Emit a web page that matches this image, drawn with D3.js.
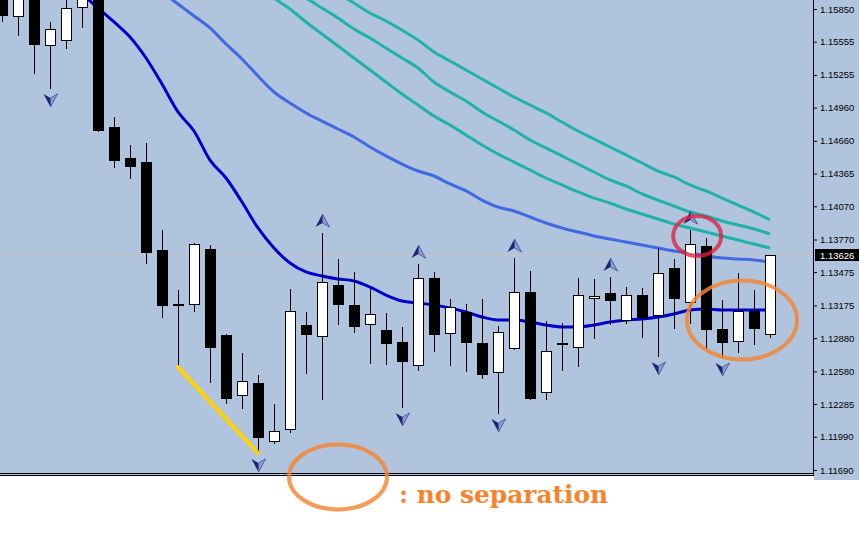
<!DOCTYPE html>
<html><head><meta charset="utf-8">
<script src="https://cdn.jsdelivr.net/npm/d3@7"></script>
<style>body{margin:0;background:#fff}svg{display:block}</style>
</head><body><svg id="c" width="859" height="540"></svg>
<script>
// ---- data (prices) ----
const candleOpen=[1.16112,1.15787,1.16021,1.15525,1.15570,1.15868,1.15976,1.14785,1.14505,1.14469,
1.13675,1.13188,1.13188,1.13684,1.12908,1.12367,1.12475,1.11952,1.12060,1.12998,
1.12899,1.13359,1.13179,1.13007,1.12953,1.12845,1.12637,1.13423,1.12926,1.13116,
1.12836,1.12574,1.12791,1.13296,1.12394,1.12836,1.12800,1.13242,1.13287,1.13044,
1.13269,1.13089,1.13513,1.13206,1.13711,1.12962,1.12854,1.13125,1.12917];
const candleHigh=[1.16202,1.16003,1.16067,1.15733,1.15976,1.16021,1.16021,1.14875,1.14623,1.14641,
1.13856,1.13314,1.13738,1.13720,1.12917,1.12746,1.12547,1.12286,1.13323,1.13116,
1.13829,1.13594,1.13477,1.13323,1.13107,1.12980,1.13549,1.13477,1.13233,1.13188,
1.13233,1.12989,1.13603,1.13486,1.13035,1.13016,1.13423,1.13414,1.13432,1.13341,
1.13332,1.13693,1.13594,1.13856,1.13784,1.13224,1.13468,1.13314,1.13626];
const candleLow=[1.15742,1.15615,1.15272,1.15137,1.15498,1.15688,1.14749,1.14424,1.14325,1.13558,
1.13071,1.12619,1.13125,1.12484,1.12295,1.12249,1.11843,1.11934,1.12033,1.12565,
1.12331,1.13007,1.12935,1.12656,1.12647,1.12258,1.12592,1.12764,1.12637,1.12583,
1.12520,1.12204,1.12782,1.12331,1.12331,1.12592,1.12628,1.12881,1.13007,1.13016,
1.12890,1.12719,1.12971,1.13016,1.12791,1.12710,1.12755,1.12827,1.12890];
const candleClose=[1.15796,1.15958,1.15534,1.15670,1.15859,1.15958,1.14758,1.14487,1.14433,1.13657,
1.13179,1.13188,1.13729,1.12800,1.12340,1.12493,1.11988,1.12042,1.13125,1.12917,
1.13386,1.13188,1.12989,1.13098,1.12836,1.12674,1.13423,1.12917,1.13161,1.12845,
1.12556,1.12935,1.13296,1.12340,1.12764,1.12836,1.13269,1.13260,1.13224,1.13269,
1.13071,1.13468,1.13242,1.13729,1.12962,1.12845,1.13125,1.12971,1.13626];

const maFast=[null,null,null,null,null,1.15985,1.15859,1.15733,1.15597,1.15408,
1.15173,1.14921,1.14749,1.14487,1.14325,1.14108,1.13874,1.13693,1.13558,1.13477,
1.13441,1.13414,1.13396,1.13341,1.13269,1.13215,1.13197,1.13179,1.13152,1.13116,
1.13071,1.13044,1.13044,1.13026,1.12998,1.12980,1.12980,1.12998,1.13026,1.13044,
1.13053,1.13071,1.13098,1.13134,1.13143,1.13134,1.13134,1.13134,1.13134];
const maMid=[null,null,null,null,null,null,null,null,null,1.16103,
1.16003,1.15895,1.15787,1.15679,1.15534,1.15399,1.15245,1.15101,1.15002,1.14912,
1.14839,1.14767,1.14695,1.14605,1.14524,1.14451,1.14388,1.14343,1.14271,1.14208,
1.14126,1.14063,1.14027,1.13973,1.13919,1.13874,1.13838,1.13802,1.13774,1.13747,
1.13720,1.13693,1.13666,1.13648,1.13621,1.13603,1.13594,1.13585,1.13567];
const maSlowA=[null,null,null,null,null,null,null,null,null,null,
null,null,null,null,null,null,1.16058,1.15949,1.15850,1.15733,
1.15624,1.15516,1.15408,1.15300,1.15191,1.15083,1.14984,1.14884,1.14803,1.14713,
1.14623,1.14542,1.14469,1.14397,1.14325,1.14262,1.14199,1.14144,1.14099,1.14045,
1.14000,1.13955,1.13910,1.13874,1.13838,1.13802,1.13765,1.13729,1.13693];
const maSlowB=[null,null,null,null,null,null,null,null,null,null,
null,null,null,null,null,null,null,null,1.16030,1.15949,
1.15859,1.15769,1.15670,1.15588,1.15498,1.15408,1.15318,1.15191,1.15101,1.15020,
1.14921,1.14839,1.14758,1.14668,1.14596,1.14524,1.14451,1.14379,1.14307,1.14253,
1.14181,1.14126,1.14072,1.14018,1.13982,1.13937,1.13901,1.13865,1.13820];
const maSlowC=[null,null,null,null,null,null,null,null,null,null,
null,null,null,null,null,null,null,null,null,null,
null,1.15994,1.15904,1.15814,1.15742,1.15660,1.15570,1.15462,1.15381,1.15300,
1.15218,1.15137,1.15056,1.14984,1.14912,1.14830,1.14749,1.14677,1.14605,1.14533,
1.14460,1.14388,1.14334,1.14262,1.14208,1.14144,1.14081,1.14018,1.13946];

const tickValues=[1.15850,1.15555,1.15255,1.14960,1.14660,1.14365,1.14070,1.13770,1.13475,1.13175,1.12880,1.12580,1.12285,1.11990,1.11690];
const lastPrice=1.13626;
const fractalUp=[20,26,32,38,43];
const fractalDown=[3,16,25,31,41,45];
const trendLine=[11,16];
const noteText=": no separation";

// ---- layout ----
const W=859,H=540,axisX=813,plotBottom=473;
const x=d3.scaleLinear().domain([0,48]).range([2,770]);
const y=d3.scaleLinear().domain([1.11690,1.15850]).range([470,9]);
const svg=d3.select('#c');
svg.append('rect').attr('width',W).attr('height',H).attr('fill','#fff');
svg.append('rect').attr('x',0).attr('y',0).attr('width',W).attr('height',476).attr('fill','#B0C4DE');
svg.append('rect').attr('x',axisX).attr('y',0).attr('width',W-axisX).attr('height',480).attr('fill','#B0C4DE');

svg.append('clipPath').attr('id','clip').append('rect').attr('x',0).attr('y',0).attr('width',axisX).attr('height',plotBottom);
const g=svg.append('g').attr('clip-path','url(#clip)');

// bid line
const by=Math.round(y(lastPrice))+0.5;
g.append('line').attr('x1',0).attr('x2',axisX).attr('y1',by).attr('y2',by).attr('stroke','#c4c4c4').attr('stroke-width',1);

// moving averages
const line=d3.line().defined(d=>d!=null).x((d,i)=>x(i)).y(d=>y(d)).curve(d3.curveMonotoneX);
[{v:maSlowC,c:'#20B2AA',w:3},{v:maSlowB,c:'#20B2AA',w:3},{v:maSlowA,c:'#20B2AA',w:3},
 {v:maMid,c:'#4169E1',w:3},{v:maFast,c:'#0000CD',w:3}].forEach(m=>{
  g.append('path').datum(m.v).attr('d',line).attr('fill','none').attr('stroke',m.c).attr('stroke-width',m.w).attr('stroke-linejoin','round');
});

// candles
const idx=d3.range(candleOpen.length);
const cg=g.append('g');
idx.forEach(i=>{
  const cx=Math.round(x(i));
  const o=candleOpen[i],c=candleClose[i],hi=candleHigh[i],lo=candleLow[i];
  cg.append('line').attr('x1',cx+0.5).attr('x2',cx+0.5).attr('y1',Math.round(y(hi))).attr('y2',Math.round(y(lo))+1)
    .attr('stroke','#000').attr('stroke-width',1);
  const top=Math.round(y(Math.max(o,c))), bot=Math.round(y(Math.min(o,c)));
  if(c>o){
    cg.append('rect').attr('x',cx-4.5).attr('y',top+0.5).attr('width',10).attr('height',Math.max(bot-top,1))
      .attr('fill','#fff').attr('stroke','#000').attr('stroke-width',1);
  } else {
    cg.append('rect').attr('x',cx-5).attr('y',top).attr('width',11).attr('height',Math.max(bot-top+1,2)).attr('fill','#000');
  }
});

// fractal arrows
const ag=svg.append('g');
function arrow(cx,tip,dir){
  const b=tip-dir*13, n=tip-dir*9;
  ag.append('path').attr('d',`M${cx},${tip}L${cx-7},${b}L${cx},${n}Z`).attr('fill','#1d2470');
  ag.append('path').attr('d',`M${cx},${tip}L${cx+7},${b}L${cx},${n}Z`).attr('fill','#8d9bd0').attr('stroke','#3d4aa0').attr('stroke-width',0.8);
}
fractalUp.forEach(i=>arrow(Math.round(x(i))+0.5,Math.round(y(candleHigh[i]))-19,-1));
fractalDown.forEach(i=>arrow(Math.round(x(i))+0.5,Math.round(y(candleLow[i]))+19,1));

// trend line (yellow)
svg.append('line').attr('x1',x(trendLine[0])).attr('y1',y(candleLow[trendLine[0]]))
  .attr('x2',x(trendLine[1])).attr('y2',y(candleLow[trendLine[1]]))
  .attr('stroke','#FFD200').attr('stroke-width',4).attr('stroke-linecap','round');

// frame lines
svg.append('line').attr('x1',0).attr('x2',axisX).attr('y1',473.5).attr('y2',473.5).attr('stroke','#000');
svg.append('line').attr('x1',0).attr('x2',axisX).attr('y1',475.5).attr('y2',475.5).attr('stroke','#000');
svg.append('rect').attr('x',0).attr('y',476).attr('width',axisX+1).attr('height',4).attr('fill','#fff');
svg.append('line').attr('x1',axisX+0.5).attr('x2',axisX+0.5).attr('y1',0).attr('y2',476).attr('stroke','#000');

// axis
const axis=d3.axisRight(y).tickValues(tickValues).tickSize(3).tickPadding(3).tickFormat(d3.format('.5f'));
const ax=svg.append('g').attr('transform',`translate(${axisX+1},0)`).call(axis);
ax.select('.domain').remove();
ax.selectAll('text').attr('font-family','"Liberation Sans",Arial,sans-serif').attr('font-size','9.5px').attr('fill','#000');
ax.selectAll('line').attr('stroke','#000');

// last price label
svg.append('rect').attr('x',axisX+2).attr('y',Math.round(y(lastPrice))-6).attr('width',W-axisX-2).attr('height',12).attr('fill','#000');
svg.append('text').attr('x',axisX+7).attr('y',y(lastPrice)).attr('dy','0.35em').text(d3.format('.5f')(lastPrice))
  .attr('font-family','"Liberation Sans",Arial,sans-serif').attr('font-size','9.5px').attr('fill','#fff');

// annotations
svg.append('ellipse').attr('cx',x(43.45)).attr('cy',y(1.13802)).attr('rx',24).attr('ry',20)
  .attr('fill','none').attr('stroke','#E0203F').attr('stroke-opacity',0.78).attr('stroke-width',4);
svg.append('ellipse').attr('cx',x(46.25)).attr('cy',y(1.13044)).attr('rx',55).attr('ry',39.5)
  .attr('fill','none').attr('stroke','#F5852F').attr('stroke-opacity',0.82).attr('stroke-width',4);
svg.append('ellipse').attr('cx',x(21)).attr('cy',y(1.11627)).attr('rx',49).attr('ry',32.5)
  .attr('fill','none').attr('stroke','#F5852F').attr('stroke-opacity',0.82).attr('stroke-width',4);
svg.append('text').attr('x',399).attr('y',503).text(noteText)
  .attr('font-family','"DejaVu Serif",serif').attr('font-weight','bold').attr('font-size','24px')
  .attr('fill','#F9822C').attr('textLength',209).attr('lengthAdjust','spacingAndGlyphs');
</script></body></html>
